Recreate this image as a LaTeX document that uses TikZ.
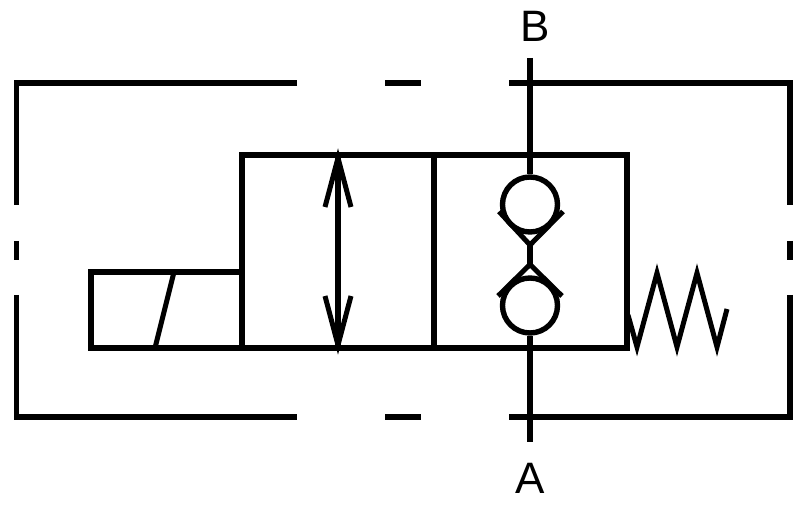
\documentclass[tikz,border=0pt]{standalone}
\usepackage{fontspec}
\setmainfont{Liberation Sans}
\tikzset{
  sym/.style={line width=5.4pt,line join=miter,line cap=butt,black},
  thin sym/.style={line width=5pt,line join=miter,line cap=butt,black},
  portlabel/.style={font=\fontsize{44}{44}\selectfont,inner sep=0pt,text=black},
  checkball/.style={circle,draw,line width=5.4pt,minimum size=55pt,inner sep=0pt}
}
\begin{document}
\begin{tikzpicture}[x=1pt,y=-1pt]
\useasboundingbox (0,0) rectangle (800,510);
% pilot envelope
\draw[sym] (297,83) -- (16.5,83) -- (16.5,205);
\draw[sym] (16.5,241) -- (16.5,260);
\draw[sym] (16.5,295) -- (16.5,417) -- (297,417);
\draw[sym] (385,83) -- (421,83);
\draw[sym] (385,417) -- (421,417);
\draw[sym] (509,83) -- (790,83) -- (790,205);
\draw[sym] (790,241) -- (790,260);
\draw[sym] (790,295) -- (790,417) -- (509,417);
% valve body
\draw[sym] (242,155) rectangle (627,348);
\draw[sym] (434,155) -- (434,348);
% solenoid
\draw[sym] (242,272) -- (91,272) -- (91,348) -- (242,348);
\draw[thin sym] (174,272) -- (155,348);
% flow arrow
\coordinate (arrtop) at (338,158);
\coordinate (arrbot) at (338,345);
\draw[sym] (arrtop) -- (arrbot);
\draw[thin sym] (325,207) -- (arrtop) -- (351,207);
\draw[thin sym] (325,296) -- (arrbot) -- (351,296);
% check valves
\node[checkball] (ctop) at (530,204.5) {};
\node[checkball] (cbot) at (530,305.5) {};
\coordinate (vtop) at (530,245);
\coordinate (vbot) at (530,264.5);
\draw[thin sym] (499,211.5) -- (vtop) -- (563,211.5);
\draw[thin sym] (498,296) -- (vbot) -- (562,296);
\node[portlabel] (B) at (534.7,26) {B};
\node[portlabel] (A) at (530,478.5) {A};
\coordinate (Bend) at (530,58);
\coordinate (Aend) at (530,442);
\draw[sym] (Bend) -- (ctop.north);
\draw[sym] (vtop) -- (vbot);
\draw[sym] (cbot.south) -- (Aend);
% spring
\draw[thin sym] (628,315) -- (637,347) -- (657,273) -- (677,347) -- (697,273) -- (717,347) -- (727,309);
\end{tikzpicture}
\end{document}
